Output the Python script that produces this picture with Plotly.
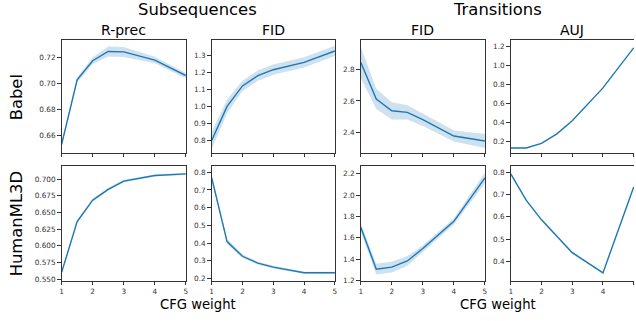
import plotly.graph_objects as go

cfg = [1, 1.5, 2, 2.5, 3, 4, 5]

babel_rprec = [0.6535, 0.7027, 0.7173, 0.7243, 0.7240, 0.7178, 0.7060]
babel_rprec_sd = [0.0015, 0.0020, 0.0025, 0.0038, 0.0038, 0.0025, 0.0020]
babel_fid = [0.80, 1.00, 1.12, 1.18, 1.215, 1.258, 1.325]
babel_fid_sd = [0.050, 0.040, 0.030, 0.030, 0.030, 0.030, 0.030]
babel_tfid = [2.848, 2.613, 2.537, 2.527, 2.480, 2.375, 2.343]
babel_tfid_sd = [0.100, 0.065, 0.055, 0.045, 0.040, 0.035, 0.045]
babel_auj = [0.131, 0.131, 0.179, 0.280, 0.419, 0.766, 1.19]
babel_auj_sd = [0.003, 0.003, 0.003, 0.003, 0.003, 0.003, 0.003]

hml_rprec = [0.5603, 0.6363, 0.6685, 0.6848, 0.6970, 0.7054, 0.7079]
hml_rprec_sd = [0.0020, 0.0025, 0.0025, 0.0020, 0.0020, 0.0015, 0.0015]
hml_fid = [0.769, 0.409, 0.326, 0.287, 0.265, 0.233, 0.233]
hml_fid_sd = [0.012, 0.015, 0.010, 0.008, 0.008, 0.006, 0.006]
hml_tfid = [1.70, 1.307, 1.326, 1.384, 1.500, 1.755, 2.163]
hml_tfid_sd = [0.040, 0.050, 0.050, 0.045, 0.030, 0.030, 0.050]
hml_auj = [0.793, 0.675, 0.587, 0.513, 0.440, 0.349, 0.734]
hml_auj_sd = [0.004, 0.004, 0.004, 0.004, 0.006, 0.004, 0.004]

x_ticks = [1, 2, 3, 4, 5]
group_titles = ["Subsequences", "Transitions"]
col_titles = ["R-prec", "FID", "FID", "AUJ"]
row_titles = ["Babel", "HumanML3D"]
x_title = "CFG weight"

panels = [
    [(babel_rprec, babel_rprec_sd, [0.66, 0.68, 0.70, 0.72], "%.2f", [0.6473, 0.7328]),
     (babel_fid, babel_fid_sd, [0.8, 0.9, 1.0, 1.1, 1.2, 1.3], "%.1f", [0.729, 1.387]),
     (babel_tfid, babel_tfid_sd, [2.4, 2.6, 2.8], "%.1f", [2.269, 2.989]),
     (babel_auj, babel_auj_sd, [0.2, 0.4, 0.6, 0.8, 1.0, 1.2], "%.1f", [0.082, 1.269])],
    [(hml_rprec, hml_rprec_sd, [0.55, 0.575, 0.6, 0.625, 0.65, 0.675, 0.7], "%.3f", [0.548, 0.7192]),
     (hml_fid, hml_fid_sd, [0.2, 0.3, 0.4, 0.5, 0.6, 0.7, 0.8], "%.1f", [0.189, 0.833]),
     (hml_tfid, hml_tfid_sd, [1.2, 1.4, 1.6, 1.8, 2.0, 2.2], "%.1f", [1.2, 2.27]),
     (hml_auj, hml_auj_sd, [0.4, 0.5, 0.6, 0.7, 0.8], "%.1f", [0.3147, 0.8265])],
]

W, H = 636, 321
col_px = [(60, 185), (211, 335), (361, 486), (512, 636)]
row_px = [(41, 155), (169, 285)]

FONT = "DejaVu Sans"
LINE = "#1f77b4"
BAND = "rgba(31,119,180,0.22)"
AX = "#333333"

fig = go.Figure()
layout = {}
k = 0
for r in range(2):
    for c in range(4):
        k += 1
        vals, sd, yt, fmt, yr = panels[r][c]
        xa = "x" if k == 1 else f"x{k}"
        ya = "y" if k == 1 else f"y{k}"
        lo = [v - s for v, s in zip(vals, sd)]
        hi = [v + s for v, s in zip(vals, sd)]
        fig.add_trace(go.Scatter(x=cfg + cfg[::-1], y=hi + lo[::-1], fill="toself",
                                 fillcolor=BAND, line=dict(width=0), mode="lines",
                                 hoverinfo="skip", showlegend=False, xaxis=xa, yaxis=ya))
        fig.add_trace(go.Scatter(x=cfg, y=vals, mode="lines", line=dict(color=LINE, width=1.4),
                                 showlegend=False, xaxis=xa, yaxis=ya))
        x0, x1 = col_px[c]
        y0, y1 = row_px[r]
        common = dict(showline=True, linecolor=AX, linewidth=1.2,
                      ticks="outside", ticklen=3.5, tickwidth=0.8, tickcolor=AX,
                      showgrid=False, zeroline=False,
                      tickfont=dict(family=FONT, size=7.3, color="#333333"))
        xr = [1, 5.01] if c == 3 else [1, 5]
        layout["xaxis" if k == 1 else f"xaxis{k}"] = dict(
            domain=[x0 / W, x1 / W], anchor=ya, range=xr, mirror=True,
            tickvals=x_ticks, ticktext=[str(t) for t in x_ticks],
            showticklabels=(r == 1), **common)
        layout["yaxis" if k == 1 else f"yaxis{k}"] = dict(
            domain=[1 - y1 / H, 1 - y0 / H], anchor=xa, range=yr, mirror=(c != 3),
            tickvals=yt, ticktext=[fmt % t for t in yt], **common)

ann = []
def add_text(txt, xpx, ypx, size, angle=0):
    ann.append(dict(text=txt, x=xpx / W, y=1 - ypx / H, xref="paper", yref="paper",
                    showarrow=False, xanchor="center", yanchor="middle", textangle=angle,
                    font=dict(family=FONT, size=size, color="black")))

add_text(group_titles[0], 197, 10, 16.4)
add_text(group_titles[1], 499, 10, 16.4)
for c, t in enumerate(col_titles):
    cx = (col_px[c][0] + min(col_px[c][1], 637)) / 2
    add_text(t, cx, 30, 14)
add_text(row_titles[0], 15, 99, 16.4, -90)
add_text(row_titles[1], 15, 227, 16.4, -90)
add_text(x_title, 197, 309, 13.2)
add_text(x_title, 499, 309, 13.2)

fig.update_layout(width=W, height=H, margin=dict(l=0, r=0, t=0, b=0),
                  paper_bgcolor="white", plot_bgcolor="white", annotations=ann, **layout)
fig.write_html("out.html", config={"displayModeBar": False},
               post_script="document.body.style.margin='0';")
